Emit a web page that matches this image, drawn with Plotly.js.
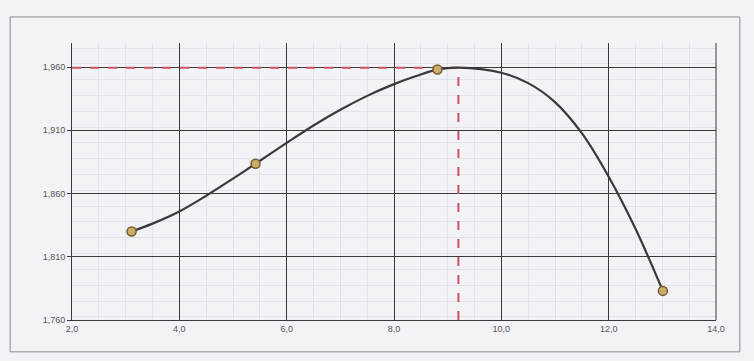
<!DOCTYPE html>
<html>
<head>
<meta charset="utf-8">
<script src="https://cdn.plot.ly/plotly-3.0.1.min.js"></script>
<style>
html,body{margin:0;padding:0;background:#f3f3f7;}
#chart{width:754px;height:361px;}
</style>
</head>
<body>
<div id="chart"></div>
<script>
// Measured points
var pointX = [3.11, 5.42, 8.81, 13.01];
var pointY = [1.830, 1.8835, 1.958, 1.783];
// Fitted curve
var curveX = [3.11, 3.5, 4.0, 4.5, 5.0, 5.42, 6.0, 6.5, 7.0, 7.5, 8.0, 8.4, 8.81, 9.2, 10.0, 10.5, 11.0, 11.5, 12.0, 12.5, 13.01];
var curveY = [1.830, 1.8362, 1.8458, 1.8582, 1.8718, 1.8835, 1.900, 1.9138, 1.9262, 1.9372, 1.9465, 1.9527, 1.958, 1.9595, 1.9555, 1.9473, 1.9323, 1.9077, 1.8733, 1.8321, 1.783];
// Maximum marker
var peakX = 9.2;
var peakY = 1.9595;
var xMin = 2.0, yMin = 1.76;
// Tick values
var xTicks = [2, 4, 6, 8, 10, 12, 14];
var yTicks = [1.76, 1.81, 1.86, 1.91, 1.96];

var traces = [
  {x: [xMin, peakX], y: [peakY, peakY], mode: 'lines', line: {color: '#d0505e', width: 2, dash: 'dash'}, hoverinfo: 'skip'},
  {x: [peakX, peakX], y: [yMin, peakY], mode: 'lines', line: {color: '#d0505e', width: 2, dash: 'dash'}, hoverinfo: 'skip'},
  {x: curveX, y: curveY, mode: 'lines', line: {color: '#3a3a3e', width: 2.2, shape: 'spline', smoothing: 1}},
  {x: pointX, y: pointY, mode: 'markers', marker: {size: 9, color: '#c9ad6a', line: {color: '#7a5a2a', width: 1.5}}}
];

var layout = {
  width: 754, height: 361,
  margin: {l: 72, r: 38, t: 43, b: 41},
  paper_bgcolor: '#f3f3f7',
  plot_bgcolor: '#f3f3f7',
  showlegend: false,
  font: {family: 'Liberation Sans, Arial, sans-serif', size: 9, color: '#555'},
  xaxis: {
    range: [2, 14], tickmode: 'array', tickvals: xTicks,
    ticktext: xTicks.map(function(v){return v.toFixed(1).replace('.', ',');}),
    showgrid: true, gridcolor: '#3a3a3e', gridwidth: 1,
    showline: true, linecolor: '#3a3a3e', linewidth: 1,
    ticks: '', zeroline: false,
    minor: {dtick: 0.5, showgrid: true, gridcolor: '#e2e2e8', gridwidth: 1}
  },
  yaxis: {
    range: [1.76, 1.979], tickmode: 'array', tickvals: yTicks,
    ticktext: yTicks.map(function(v){return v.toFixed(3).replace('.', ',');}),
    showgrid: true, gridcolor: '#3a3a3e', gridwidth: 1,
    showline: true, linecolor: '#3a3a3e', linewidth: 1,
    ticks: 'outside', ticklen: 4, tickcolor: '#3a3a3e', zeroline: false,
    minor: {dtick: 0.0125, showgrid: true, gridcolor: '#e2e2e8', gridwidth: 1}
  },
  shapes: [
    {type: 'rect', xref: 'paper', yref: 'paper', x0: -0.096, x1: 1.037, y0: -0.115, y1: 1.094,
     line: {color: '#8a8a90', width: 1}, fillcolor: 'rgba(0,0,0,0)', layer: 'below'},
    {type: 'line', xref: 'paper', yref: 'paper', x0: 1, x1: 1, y0: 0, y1: 1,
     line: {color: '#3a3a3e', width: 1}}
  ]
};

Plotly.newPlot('chart', traces, layout, {displayModeBar: false, staticPlot: true});
</script>
</body>
</html>
